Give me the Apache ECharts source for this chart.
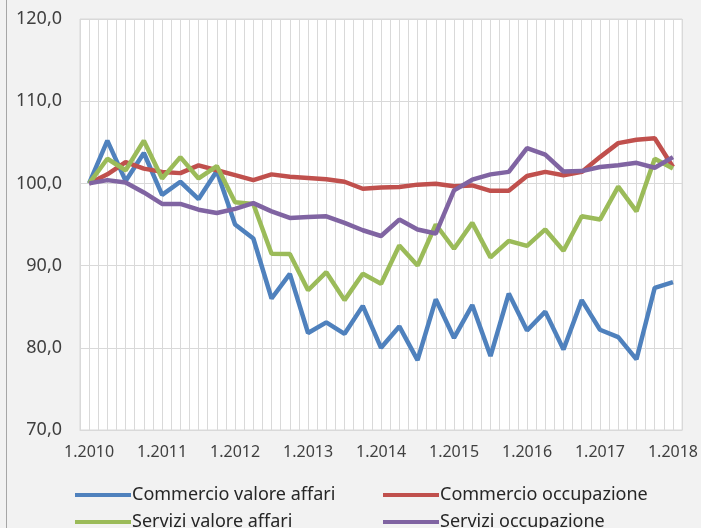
<!DOCTYPE html>
<html>
<head>
<meta charset="utf-8">
<script src="https://cdn.jsdelivr.net/npm/echarts@6/dist/echarts.min.js"></script>
<style>
  html, body { margin: 0; padding: 0; background: #f2f2f2; }
  #main { width: 701px; height: 528px; }
</style>
</head>
<body>
<div id="main"></div>
<script>
// trimestri 1.2010 - 1.2018
const periodi = [];
for (let a = 2010; a <= 2018; a++) {
  for (let q = 1; q <= 4; q++) {
    if (a === 2018 && q > 1) break;
    periodi.push(q + '.' + a);
  }
}

const commercioValore = [100, 105.2, 100.3, 103.7, 98.6, 100.2, 98.1, 101.5, 95.0, 93.3,
  86.0, 89.0, 81.8, 83.1, 81.7, 85.1, 80.0, 82.6, 78.5, 85.9, 81.2, 85.2, 79.0, 86.6,
  82.1, 84.4, 79.8, 85.8, 82.2, 81.3, 78.6, 87.3, 88.0];
const commercioOccupazione = [100, 101.1, 102.6, 101.8, 101.4, 101.25, 102.2, 101.6, 101.0, 100.4,
  101.1, 100.8, 100.65, 100.5, 100.2, 99.35, 99.5, 99.55, 99.85, 99.95, 99.65, 99.75, 99.1, 99.1,
  100.9, 101.4, 101.0, 101.4, 103.2, 104.9, 105.3, 105.5, 102.0];
const serviziValore = [100, 103.0, 101.6, 105.2, 100.6, 103.2, 100.6, 102.1, 97.7, 97.5,
  91.45, 91.4, 87.0, 89.2, 85.8, 89.0, 87.8, 92.45, 90.0, 95.0, 92.05, 95.2, 91.0, 93.0,
  92.4, 94.4, 91.8, 96.0, 95.6, 99.6, 96.6, 103.0, 101.8];
const serviziOccupazione = [100, 100.4, 100.1, 98.9, 97.5, 97.5, 96.8, 96.4, 96.9, 97.6,
  96.6, 95.8, 95.9, 96.0, 95.2, 94.3, 93.6, 95.6, 94.4, 93.9, 99.15, 100.45, 101.1, 101.4,
  104.3, 103.5, 101.45, 101.5, 102.0, 102.2, 102.5, 101.9, 103.2];

const nomi = ['Commercio valore affari', 'Commercio occupazione', 'Servizi valore affari', 'Servizi occupazione'];
const colori = ['#4f81bd', '#c0504d', '#9bbb59', '#8064a2'];
const valori = [commercioValore, commercioOccupazione, serviziValore, serviziOccupazione];

const font = 'Noto Sans';

// legenda su due colonne
const legenda = (dati, sx) => ({
  data: dati,
  orient: 'vertical', left: sx, top: 480, height: 60, itemGap: 7,
  itemWidth: 56, itemHeight: 4, icon: 'rect', itemStyle: { borderWidth: 0 },
  textStyle: { fontFamily: font, fontSize: 18, lineHeight: 20, color: '#262626', padding: [0, 0, 0, -4] }
});

const chart = echarts.init(document.getElementById('main'));
chart.setOption({
  backgroundColor: '#f2f2f2',
  animation: false,
  grid: {
    left: 80, right: 17, top: 19, bottom: 98,
    show: true, backgroundColor: '#ffffff', borderColor: '#d9d9d9', borderWidth: 1
  },
  graphic: [{
    type: 'line', shape: { x1: 6.5, y1: 0, x2: 6.5, y2: 528 },
    style: { stroke: '#a6a6a6', lineWidth: 1 }
  }],
  legend: [legenda([nomi[0], nomi[2]], 70), legenda([nomi[1], nomi[3]], 378)],
  xAxis: {
    type: 'value', min: -0.5, max: 32.5, interval: 0.5,
    axisLine: { show: true, lineStyle: { color: '#d9d9d9' } },
    axisTick: { show: false },
    splitLine: { show: true, lineStyle: { color: '#d9d9d9', width: 1 } },
    axisLabel: {
      margin: 14, fontFamily: font, fontSize: 16, color: '#404040',
      formatter: v => {
        const p = periodi[v];
        return (Number.isInteger(v) && p && p.startsWith('1.')) ? p : '';
      }
    }
  },
  yAxis: {
    type: 'value', min: 70, max: 120, interval: 10,
    axisLine: { show: false }, axisTick: { show: false },
    splitLine: { lineStyle: { color: '#d9d9d9', width: 1 } },
    axisLabel: {
      margin: 18, fontFamily: font, fontSize: 18, color: '#404040',
      formatter: v => v.toFixed(1).replace('.', ',')
    }
  },
  series: valori.map((serie, k) => ({
    name: nomi[k],
    type: 'line',
    data: serie.map((v, i) => [i, v]),
    showSymbol: false,
    color: colori[k],
    lineStyle: { width: 4.5, color: colori[k] }
  }))
});
</script>
</body>
</html>
